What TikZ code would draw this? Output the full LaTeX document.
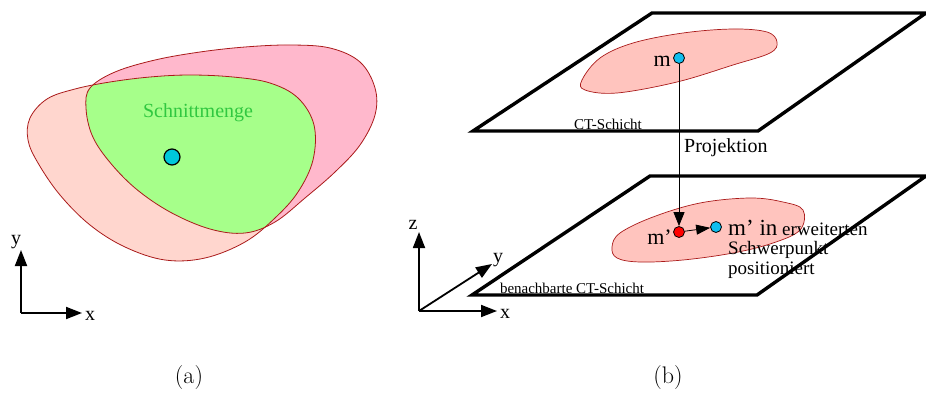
\documentclass[tikz,border=0pt]{standalone}
\usepackage{fontspec}
\newfontfamily\tms{Liberation Serif}
\usetikzlibrary{arrows.meta}
\definecolor{lpink}{HTML}{FFD6CE}
\definecolor{rpink}{HTML}{FFB8CC}
\definecolor{lgreen}{HTML}{A6FF8A}
\definecolor{dred}{HTML}{AA1A1A}
\definecolor{blobc}{HTML}{FFC4BE}
\definecolor{tgreen}{HTML}{30C840}
\definecolor{cyandot}{HTML}{00C8DC}
\definecolor{bluedot}{HTML}{10BEEE}
\tikzset{
  outline/.style={draw=dred, line width=0.8pt},
  plane/.style={draw=black, line width=3.4pt, line join=miter},
  axis/.style={line width=1.8pt, -{Triangle[length=16pt,width=12pt]}},
  dot/.style={circle, draw=black, line width=0.8pt, inner sep=0pt, minimum size=#1},
  lbl/.style={font=\tms\fontsize{20}{22}\selectfont, inner sep=0pt},
  small/.style={font=\tms\fontsize{15}{17}\selectfont, inner sep=0pt},
  captxt/.style={font=\fontsize{24}{26}\selectfont, inner sep=0pt},
}
\begin{document}
\begin{tikzpicture}[x=1pt,y=-1pt]
\useasboundingbox (0,0) rectangle (926,396);
% ---------- panel (a)
\def\shapeA{plot[smooth cycle, tension=0.6] coordinates {(30,118) (47,99) (75,89) (110,82) (150,77) (190,75) (233,77) (270,83) (298,98) (314,125) (313,160) (298,192) (275,218) (245,242) (205,258) (165,260) (125,247) (90,225) (60,195) (38,163) (28,140)}}
\def\shapeB{plot[smooth cycle, tension=0.6] coordinates {(86,108) (90,88) (115,72) (155,60) (200,52) (245,47) (290,45) (330,48) (360,62) (375,88) (375,115) (360,145) (335,172) (305,198) (275,222) (245,233) (210,229) (170,212) (135,188) (108,160) (92,135)}}
\fill[lpink] \shapeA;
\fill[rpink] \shapeB;
\begin{scope}
  \clip \shapeA;
  \fill[lgreen] \shapeB;
\end{scope}
\draw[outline] \shapeA;
\draw[outline] \shapeB;
\node[font=\tms\fontsize{20}{22}\selectfont, text=tgreen, inner sep=0pt] (sm) at (198,113) {Schnittmenge};
\node[dot=16pt, fill=cyandot, line width=1.2pt] (c) at (172,157) {};
% axes (a)
\coordinate (oa) at (21,313);
\coordinate (ya) at (21,250);
\coordinate (xa) at (82,313);
\draw[axis] (oa) -- (ya);
\draw[axis] (oa) -- (xa);
\node[lbl] (ylab) at (16,242) {y};
\node[lbl] (xlab) at (90,316) {x};
\node[captxt] (capa) at (189,378) {(a)};
% ---------- panel (b)
\coordinate (t1) at (473,131); \coordinate (t2) at (758,131);
\coordinate (t3) at (926,13);  \coordinate (t4) at (652,13);
\draw[plane] (t1) -- (t2) -- (t3) -- (t4) -- cycle;
\coordinate (b1) at (472,295); \coordinate (b2) at (757,295);
\coordinate (b3) at (926,176); \coordinate (b4) at (650,176);
\draw[plane] (b1) -- (b2) -- (b3) -- (b4) -- cycle;
% blobs
\draw[outline, fill=blobc, line width=0.7pt] plot[smooth cycle, tension=0.6] coordinates {(582,80) (585,90) (617,93) (677,82) (733,65) (770,53) (777,42) (767,32) (733,29) (683,33) (633,43) (600,58)};
\draw[outline, fill=blobc, line width=0.7pt] plot[smooth cycle, tension=0.6] coordinates {(612,247) (620,233) (653,217) (700,203) (750,198) (783,202) (803,210) (800,230) (773,243) (733,253) (683,260) (640,262) (617,258)};
\node[small] (ct1) at (608,124) {CT-Schicht};
\node[small] (ct2) at (572,288) {benachbarte CT-Schicht};
% points
\node[dot=11pt, fill=bluedot] (m) at (679,58) {};
\node[lbl, font=\tms\fontsize{22}{24}\selectfont, anchor=east] (mlab) at (671,61) {m};
\node[dot=11pt, fill=red] (mp) at (679,232) {};
\node[dot=11pt, fill=bluedot] (mq) at (716,227) {};
\node[lbl, font=\tms\fontsize{22}{24}\selectfont, anchor=east] (mplab) at (672,237) {m’};
\draw[line width=0.8pt, -{Triangle[length=14pt,width=11pt]}] (m) -- (mp);
\draw[line width=0.8pt, -{Triangle[length=14pt,width=10pt]}] (mp) -- (mq);
\node[lbl, anchor=west] (proj) at (684,148) {Projektion};
\node[lbl, font=\tms\fontsize{23}{25}\selectfont, anchor=base west] (min) at (728,235) {m’ in};
\node[lbl, font=\tms\fontsize{19}{21}\selectfont, anchor=base west] (erw) at (782,235) {erweiterten};
\node[lbl, font=\tms\fontsize{19}{21}\selectfont, anchor=base west] (sp) at (728,254) {Schwerpunkt};
\node[lbl, font=\tms\fontsize{19}{21}\selectfont, anchor=base west] (pos) at (728,274) {positioniert};
% axes (b)
\coordinate (ob) at (419,311);
\coordinate (zb) at (419,232);
\coordinate (xb) at (497,311);
\coordinate (yb) at (492,264);
\draw[axis] (ob) -- (zb);
\draw[axis] (ob) -- (xb);
\draw[axis] (ob) -- (yb);
\node[lbl] (zlab) at (413,225) {z};
\node[lbl] (xlabb) at (505,314) {x};
\node[lbl] (ylabb) at (498,260) {y};
\node[captxt] (capb) at (668,378) {(b)};
\end{tikzpicture}
\end{document}
